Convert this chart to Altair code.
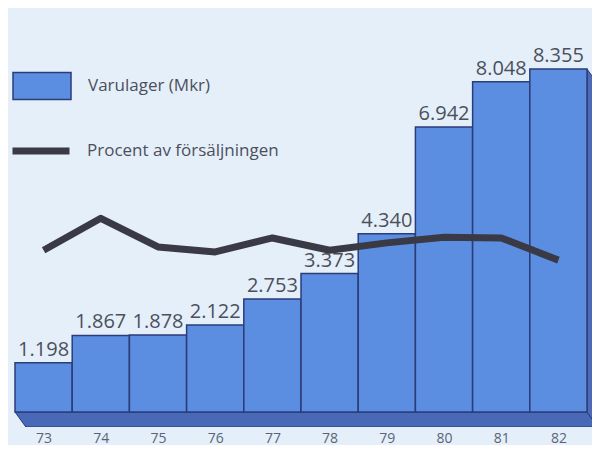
import altair as alt
import pandas as pd

years = ["73", "74", "75", "76", "77", "78", "79", "80", "81", "82"]
varulager = [1.198, 1.867, 1.878, 2.122, 2.753, 3.373, 4.340, 6.942, 8.048, 8.355]
procent = [19.7, 23.6, 20.1, 19.5, 21.2, 19.7, 20.6, 21.3, 21.2, 18.5]
serie_bar = "Varulager (Mkr)"
serie_line = "Procent av försäljningen"

BG = "#e4eff9"
BAR = "#5b8ee0"
EDGE = "#2b3c78"
FLOOR = "#4868b8"
SIDE = "#4d69b8"
LINE = "#3a3a46"
TXT = "#4c505c"
FONT = "Open Sans"

n = len(years)
dx, dy = 0.19, 0.365          # 3D depth in data units
ydom = [-dy, 9.842]
pdom = [v * 5 for v in ydom]

df = pd.DataFrame({
    "year": years,
    "i": list(range(n)),
    "i1": [k + 1 for k in range(n)],
    "ic": [k + 0.5 for k in range(n)],
    "v": varulager,
    "p": procent,
    "lab": [f"{v:.3f}" for v in varulager],
    "s1": serie_bar,
    "s2": serie_line,
})

floor_df = pd.DataFrame({
    "x": [0, dx, n, n + dx],
    "y": [0, 0, 0, -dy],
    "y2": [0, -dy, -dy, -dy],
})
side_df = pd.DataFrame({
    "x": [n, n + dx],
    "y": [0, -dy],
    "y2": [varulager[-1], varulager[-1] - dy],
})

xs = alt.Scale(domain=[0, 10.087], nice=False, zero=False)
ys = alt.Scale(domain=ydom, nice=False, zero=False)
label_expr = "[" + ",".join(f"'{y}'" for y in years) + "][floor(datum.value)]"

xaxis = alt.Axis(values=[k + 0.5 for k in range(n)], labelExpr=label_expr,
                 domain=False, ticks=False, grid=False, title=None,
                 labelFont=FONT, labelFontSize=14, labelColor="#5a6478",
                 labelPadding=4)

floor = alt.Chart(floor_df).mark_area(color=FLOOR, stroke=EDGE, strokeWidth=1, clip=True, opacity=1).encode(
    x=alt.X("x:Q", scale=xs, axis=xaxis),
    y=alt.Y("y:Q", scale=ys, axis=None),
    y2="y2:Q",
)
side = alt.Chart(side_df).mark_area(color=SIDE, stroke=EDGE, strokeWidth=1, clip=True, opacity=1).encode(
    x=alt.X("x:Q", scale=xs),
    y=alt.Y("y:Q", scale=ys, axis=None),
    y2="y2:Q",
)

bars = alt.Chart(df).mark_bar(stroke=EDGE, strokeWidth=1.5, opacity=1).encode(
    x=alt.X("i:Q", scale=xs),
    x2="i1:Q",
    y=alt.Y("v:Q", scale=ys, axis=None),
    y2=alt.datum(0),
    fill=alt.Fill("s1:N", scale=alt.Scale(domain=[serie_bar], range=[BAR]),
                  legend=alt.Legend(title=None, orient="none", legendX=-3, legendY=48,
                                    symbolType="M-1,-0.466H1V0.466H-1Z", symbolSize=3364,
                                    symbolStrokeColor=EDGE, symbolStrokeWidth=1.5,
                                    symbolOpacity=1, symbolFillColor=BAR,
                                    labelFont=FONT, labelFontSize=17, labelColor=TXT,
                                    labelOffset=16, labelLimit=400)),
)

labels = alt.Chart(df).mark_text(font=FONT, fontSize=20, color=TXT, baseline="alphabetic",
                                 align="center", dy=-7).encode(
    x=alt.X("ic:Q", scale=xs),
    y=alt.Y("v:Q", scale=ys, axis=None),
    text="lab:N",
)

line = alt.Chart(df).mark_line(strokeWidth=7, strokeJoin="round", strokeCap="butt").encode(
    x=alt.X("ic:Q", scale=xs),
    y=alt.Y("p:Q", scale=alt.Scale(domain=pdom, nice=False, zero=False), axis=None),
    stroke=alt.Stroke("s2:N", scale=alt.Scale(domain=[serie_line], range=[LINE]),
                      legend=alt.Legend(title=None, orient="none", legendX=-6, legendY=111,
                                        symbolType="stroke", symbolSize=3249,
                                        symbolStrokeWidth=7, symbolStrokeColor=LINE,
                                        labelFont=FONT, labelFontSize=17, labelColor=TXT,
                                        labelOffset=14, labelLimit=400)),
)

chart = alt.layer(floor, side, bars, labels, line).resolve_scale(
    y="independent", fill="independent", stroke="independent"
).properties(
    width=577, height=419,
    padding={"left": 7, "top": 0, "right": 0, "bottom": 18},
    autosize=alt.AutoSizeParams(type="none"),
    background=BG,
).configure_view(stroke=None)

chart.save("out.html", embed_options={"renderer": "svg", "actions": False})
